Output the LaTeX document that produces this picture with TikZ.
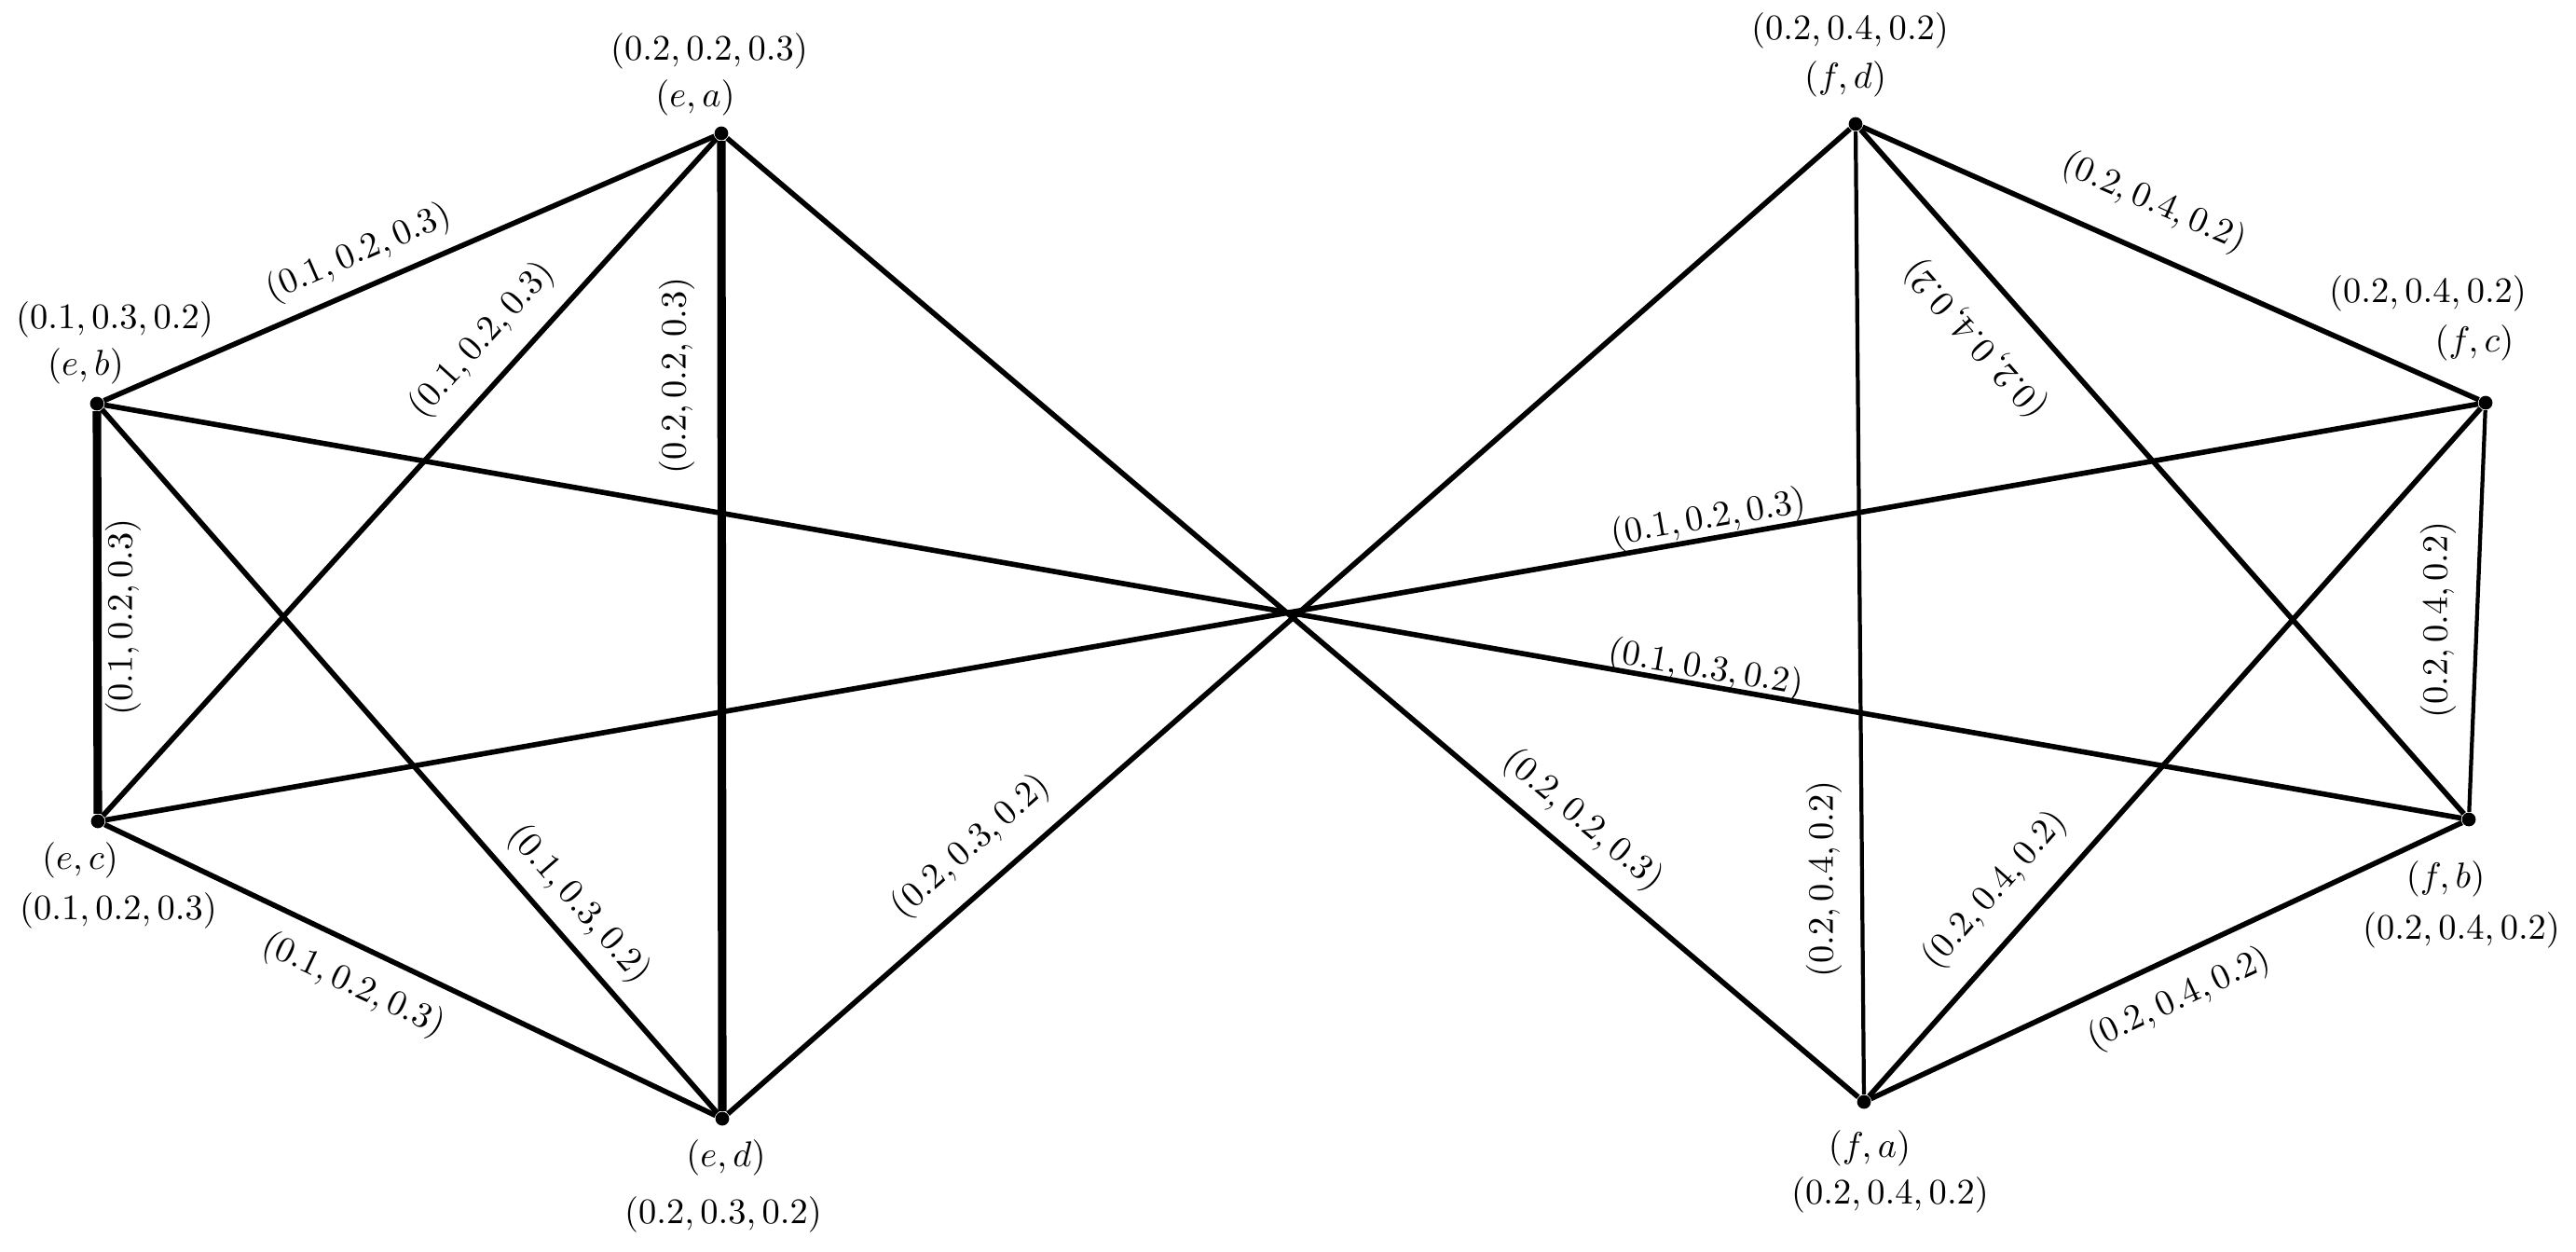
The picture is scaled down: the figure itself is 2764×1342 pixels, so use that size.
\documentclass[tikz,border=0pt]{standalone}
\begin{document}
\begin{tikzpicture}[x=0.01cm,y=-0.01cm,
  vtx/.style={circle,fill=black,inner sep=0pt,minimum size=4.2pt},
  txt/.style={inner sep=1pt,font=\fontsize{11}{13}\selectfont},
  edge/.style={line width=1.6pt},
  thickedge/.style={line width=2.6pt},
  thinedge/.style={line width=1.2pt}]
\useasboundingbox (0,0) rectangle (2764,1342);
% vertices
\node[vtx] (ea) at (774,143) {};
\node[vtx] (eb) at (104,433) {};
\node[vtx] (ec) at (105,881) {};
\node[vtx] (ed) at (775,1200) {};
\node[vtx] (fd) at (1991,133) {};
\node[vtx] (fc) at (2667,432) {};
\node[vtx] (fb) at (2649,879) {};
\node[vtx] (fa) at (2000,1182) {};
% vertex names and values
\node[txt] (ea-n) at (746,105) {$(e, a)$};
\node[txt] (ea-v) at (761,55) {$(0.2, 0.2, 0.3)$};
\node[txt] (eb-n) at (92,393) {$(e, b)$};
\node[txt] (eb-v) at (123,343) {$(0.1, 0.3, 0.2)$};
\node[txt] (ec-n) at (86,923) {$(e, c)$};
\node[txt] (ec-v) at (127,977) {$(0.1, 0.2, 0.3)$};
\node[txt] (ed-n) at (779,1242) {$(e, d)$};
\node[txt] (ed-v) at (776,1303) {$(0.2, 0.3, 0.2)$};
\node[txt] (fd-n) at (1980,85) {$(f, d)$};
\node[txt] (fd-v) at (1985,33) {$(0.2, 0.4, 0.2)$};
\node[txt] (fc-n) at (2655,368) {$(f, c)$};
\node[txt] (fc-v) at (2605,315) {$(0.2, 0.4, 0.2)$};
\node[txt] (fb-n) at (2624,943) {$(f, b)$};
\node[txt] (fb-v) at (2641,998) {$(0.2, 0.4, 0.2)$};
\node[txt] (fa-n) at (2006,1232) {$(f, a)$};
\node[txt] (fa-v) at (2028,1282) {$(0.2, 0.4, 0.2)$};
% edges
\draw[edge] (ea) -- (eb);
\draw[edge] (ea) -- (ec);
\draw[thickedge] (ea) -- (ed);
\draw[thickedge] (eb) -- (ec);
\draw[edge] (eb) -- (ed);
\draw[edge] (ec) -- (ed);
\draw[edge] (ed) -- (fd);
\draw[edge] (ec) -- (fc);
\draw[edge] (eb) -- (fb);
\draw[edge] (ea) -- (fa);
\draw[edge] (fd) -- (fc);
\draw[edge] (fd) -- (fb);
\draw[thinedge] (fd) -- (fa);
\draw[thinedge] (fc) -- (fb);
\draw[edge] (fc) -- (fa);
\draw[edge] (fb) -- (fa);
% edge labels
\node[txt,rotate=23.4] (l-ea-eb) at (385,272) {$(0.1, 0.2, 0.3)$};
\node[txt,rotate=47.8] (l-ea-ec) at (517,365) {$(0.1, 0.2, 0.3)$};
\node[txt,rotate=90] (l-ea-ed) at (726,403) {$(0.2, 0.2, 0.3)$};
\node[txt,rotate=90] (l-eb-ec) at (132,662) {$(0.1, 0.2, 0.3)$};
\node[txt,rotate=-48.8] (l-eb-ed) at (621,970) {$(0.1, 0.3, 0.2)$};
\node[txt,rotate=-25.4] (l-ec-ed) at (379,1057) {$(0.1, 0.2, 0.3)$};
\node[txt,rotate=41.3] (l-ed-fd) at (1042,908) {$(0.2, 0.3, 0.2)$};
\node[txt,rotate=9.9] (l-ec-fc) at (1833,557) {$(0.1, 0.2, 0.3)$};
\node[txt,rotate=-9.9] (l-eb-fb) at (1830,718) {$(0.1, 0.3, 0.2)$};
\node[txt,rotate=-40.3] (l-ea-fa) at (1698,880) {$(0.2, 0.2, 0.3)$};
\node[txt,rotate=-23.9] (l-fd-fc) at (2311,218) {$(0.2, 0.4, 0.2)$};
\node[txt,rotate=131.4] (l-fd-fb) at (2120,363) {$(0.2, 0.4, 0.2)$};
\node[txt,rotate=90] (l-fd-fa) at (1957,943) {$(0.2, 0.4, 0.2)$};
\node[txt,rotate=90] (l-fc-fb) at (2616,665) {$(0.2, 0.4, 0.2)$};
\node[txt,rotate=48.3] (l-fc-fa) at (2141,955) {$(0.2, 0.4, 0.2)$};
\node[txt,rotate=25.0] (l-fb-fa) at (2338,1072) {$(0.2, 0.4, 0.2)$};
\end{tikzpicture}
\end{document}
